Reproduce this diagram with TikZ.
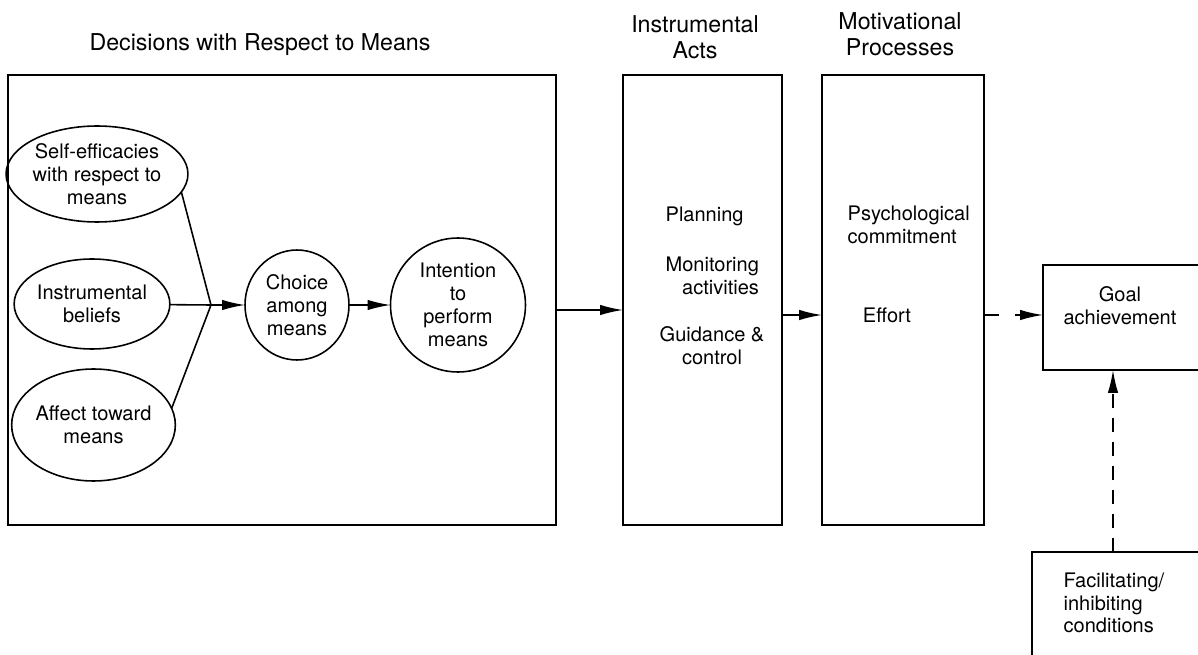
\documentclass[tikz,border=0pt]{standalone}
\usepackage{fontspec}
\setmainfont{TeX Gyre Heros}
\usetikzlibrary{shapes.geometric}
\usetikzlibrary{arrows.meta}

\begin{document}
\begin{tikzpicture}[x=0.02cm,y=-0.02cm,line width=0.9pt,
    font=\fontsize{11.4}{13}\selectfont,
    box/.style={draw,rectangle,inner sep=0pt,outer sep=0pt},
    oval/.style={draw,ellipse,inner sep=0pt,outer sep=0pt,align=center},
    title/.style={font=\fontsize{13.2}{14.5}\selectfont,align=center},
    arr/.style={-{Latex[length=4.6mm,width=2.1mm]}},
    dashline/.style={dash pattern=on 0.3cm off 0.32cm}]
    \clip (0,0) rectangle (1198,655);

    % Titles
    \node[title] (tmeans) at (260,45) {Decisions with Respect to Means};
    \node[title] (tinstr) at (695,37) {Instrumental\\Acts};
    \node[title] (tmotiv) at (900,34) {Motivational\\Processes};

    % Big boxes
    \node[box,minimum width=10.96cm,minimum height=9cm] (means) at (282,300) {};
    \node[box,minimum width=3.18cm,minimum height=9cm] (instr) at (702.5,300) {};
    \node[box,minimum width=3.24cm,minimum height=9cm] (motiv) at (903,300) {};
    \node[box,minimum width=3.34cm,minimum height=2.1cm] (goal) at (1126.5,317.5) {};
    \node[box,minimum width=3.56cm,minimum height=2.56cm] (fac) at (1121,616) {};

    % Decisions with respect to means
    \node[oval,minimum width=3.29cm,minimum height=1.92cm] (selfeff) at (97,174) {Self-efficacies\\with respect to\\means};
    \node[oval,minimum width=2.94cm,minimum height=1.8cm] (belief) at (92,304) {Instrumental\\beliefs};
    \node[oval,minimum width=2.94cm,minimum height=2.24cm] (affect) at (93.5,425) {Affect toward\\means};
    \node[oval,minimum width=2.08cm,minimum height=2.2cm] (choice) at (297,305) {Choice\\among\\means};
    \node[oval,minimum width=2.7cm,minimum height=2.68cm] (intent) at (458,305) {Intention\\to\\perform\\means};
    \coordinate (j) at (211,305);

    \draw (selfeff.-12) -- (j);
    \draw (belief) -- (j);
    \draw (affect.12) -- (j);
    \draw[arr] (j) -- (choice);
    \draw[arr] (choice) -- (intent);

    % Instrumental acts
    \node[anchor=west] (plan) at (659,216) {Planning};
    \node[anchor=west,align=right] (monit) at (659,276) {Monitoring\\activities};
    \node[align=center] (guide) at (712,346) {Guidance \&\\control};

    % Motivational processes
    \node[anchor=west,align=left] (psych) at (841,225) {Psychological\\commitment};
    \node (effort) at (887,315) {Effort};

    % Outcome
    \node[align=center] (goaltext) at (1120,306) {Goal\\achievement};
    \node[anchor=west,align=left] (factext) at (1057,603) {Facilitating/\\inhibiting\\conditions};

    \coordinate (lvl) at (0,310);
    \coordinate (vx) at (1113,0);
    \draw[arr] (means.east |- lvl) -- (instr.west |- lvl);
    \draw[arr] (instr.east |- effort) -- (motiv.west |- effort);
    \draw[arr,dashline] (motiv.east |- effort) -- (goal.west |- effort);
    \draw[arr,dash pattern=on 0.28cm off 0.2cm] (vx |- fac.north) -- (vx |- goal.south);
\end{tikzpicture}
\end{document}
